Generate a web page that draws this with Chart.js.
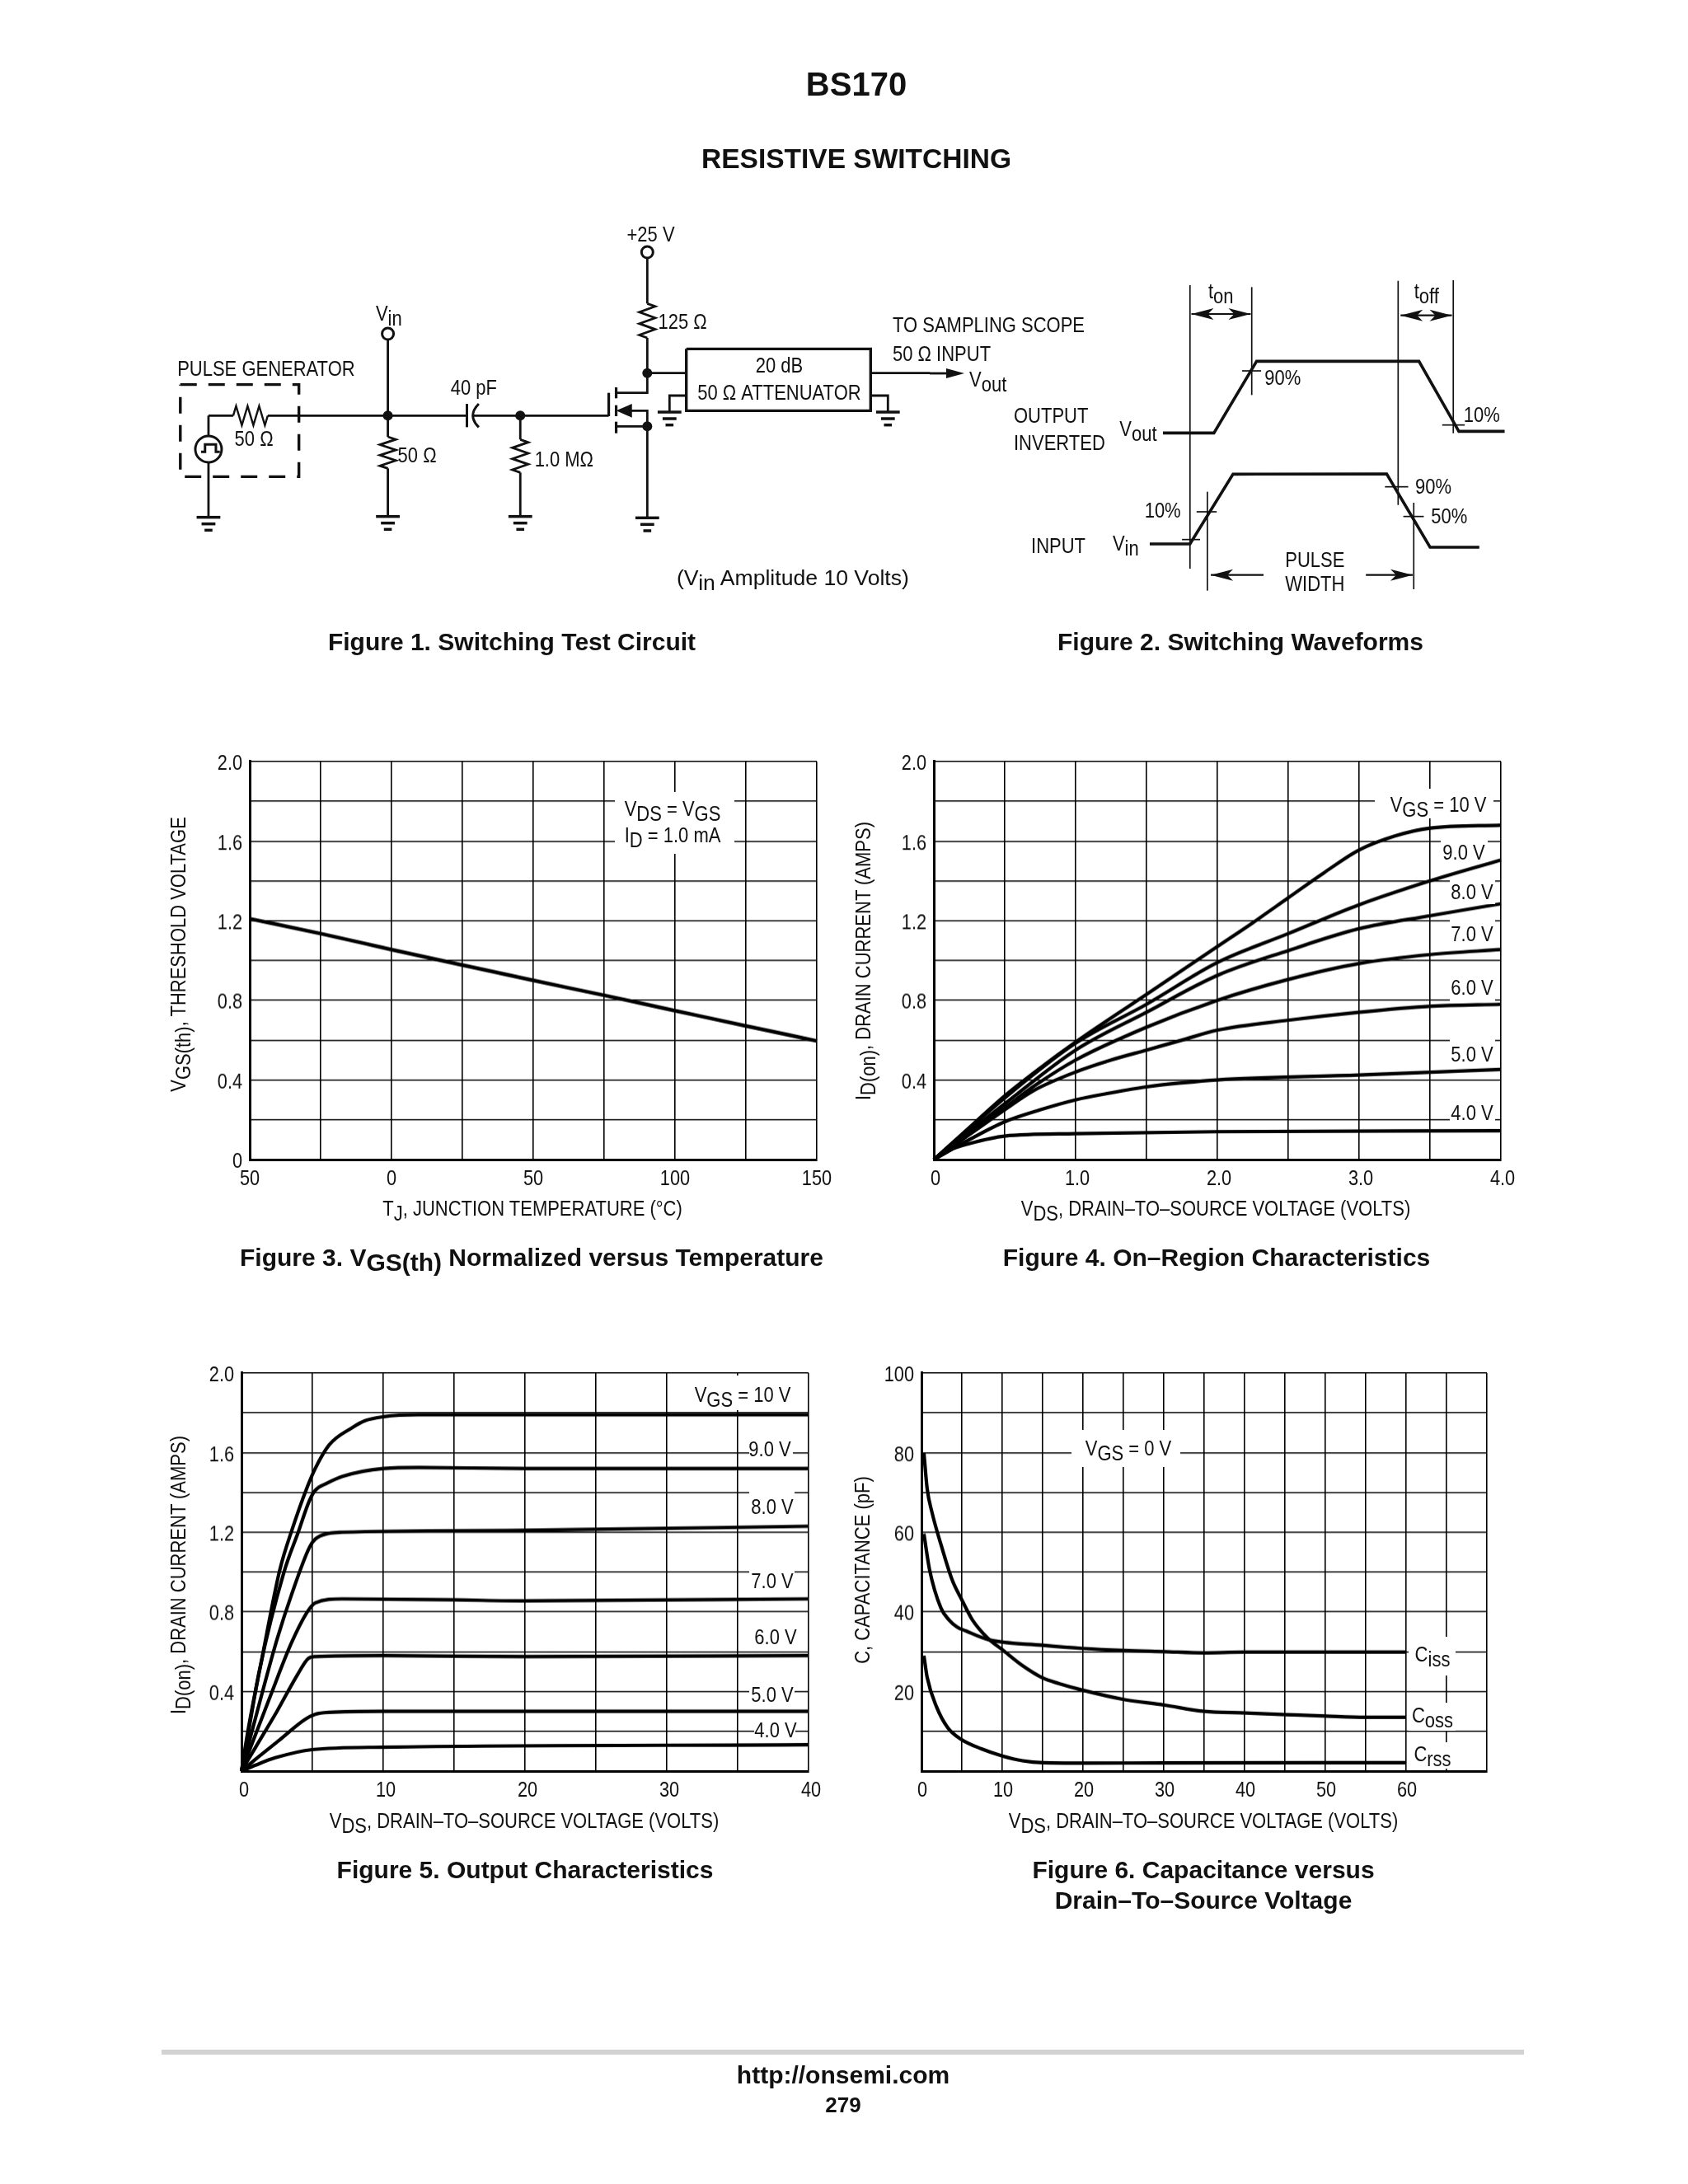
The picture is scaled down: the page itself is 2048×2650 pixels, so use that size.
<!DOCTYPE html>
<html><head><meta charset="utf-8"><title>BS170</title>
<script src="https://cdn.jsdelivr.net/npm/chart.js@4"></script>
<style>
html,body{margin:0;padding:0;background:#fff;}
body{width:2048px;height:2650px;position:relative;overflow:hidden;}
canvas.c{position:absolute;}
svg{position:absolute;left:0;top:0;}
</style></head><body>
<canvas class="c" id="fig3"></canvas>
<canvas class="c" id="fig4"></canvas>
<canvas class="c" id="fig5"></canvas>
<canvas class="c" id="fig6"></canvas>
<svg id="s" width="2048" height="2650" xmlns="http://www.w3.org/2000/svg"></svg>
<script>
// ---------- Figure 3 data
const fig3Temp = [-50,-25,0,25,50,75,100,125,150];
const fig3Vth  = [1.21,1.135,1.055,0.977,0.90,0.825,0.748,0.671,0.596];
const fig3XTicks = [-50,0,50,100,150];
const fig3XLabels = ['50','0','50','100','150'];
const fig3YTicks = [0,0.4,0.8,1.2,1.6,2.0];
const fig3YLabels = ['0','0.4','0.8','1.2','1.6','2.0'];
// ---------- Figure 4 data
const fig4V10x = [0,0.25,0.5,0.75,1,1.5,2,2.25,2.5,2.75,3,3.25,3.5,4];
const fig4V10y = [0,0.16,0.32,0.46,0.59,0.83,1.07,1.19,1.315,1.44,1.555,1.625,1.665,1.68];
const fig4V9x  = [0,0.25,0.5,1,1.5,2,2.5,3,3.5,4];
const fig4V9y  = [0,0.155,0.31,0.585,0.78,0.99,1.135,1.28,1.40,1.505];
const fig4V8x  = [0,0.25,0.5,1,1.5,2,2.5,3,3.5,4];
const fig4V8y  = [0,0.14,0.28,0.55,0.74,0.925,1.05,1.16,1.225,1.285];
const fig4V7x  = [0,0.25,0.5,0.72,1,1.5,2,2.5,3,3.5,4];
const fig4V7y  = [0,0.13,0.26,0.375,0.50,0.665,0.80,0.905,0.985,1.03,1.055];
const fig4V6x  = [0,0.25,0.5,0.7,1,1.25,1.5,1.75,2,2.5,3,3.5,4];
const fig4V6y  = [0,0.125,0.25,0.345,0.44,0.50,0.55,0.60,0.65,0.70,0.74,0.77,0.78];
const fig4V5x  = [0,0.25,0.5,0.75,1,1.25,1.5,1.75,2,3,4];
const fig4V5y  = [0,0.10,0.19,0.25,0.30,0.335,0.365,0.385,0.40,0.425,0.453];
const fig4V4x  = [0,0.12,0.25,0.5,1,2,4];
const fig4V4y  = [0,0.05,0.08,0.118,0.13,0.14,0.145];
const fig4XTicks = [0,1,2,3,4];
const fig4XLabels = ['0','1.0','2.0','3.0','4.0'];
const fig4YTicks = [0.4,0.8,1.2,1.6,2.0];
const fig4YLabels = ['0.4','0.8','1.2','1.6','2.0'];
// ---------- Figure 5 data
const fig5V10x = [0,0.5,1.4,2.7,3.6,4.6,5.2,6.2,7.8,8.7,10,12.5,20,40];
const fig5V10y = [0,0.22,0.55,1.01,1.22,1.42,1.52,1.64,1.725,1.76,1.78,1.79,1.79,1.79];
const fig5V9x  = [0,0.5,1.25,3,4,4.8,5.2,6,7.1,10,12.5,20,40];
const fig5V9y  = [0,0.20,0.50,1.0,1.20,1.36,1.41,1.445,1.48,1.52,1.525,1.52,1.52];
const fig5V8x  = [0,1,2.5,3.5,4.8,5.2,6.2,7.1,20,40];
const fig5V8y  = [0,0.27,0.66,0.88,1.125,1.165,1.195,1.20,1.21,1.23];
const fig5V7x  = [0,2,3.5,4.6,5.2,7.1,15,20,40];
const fig5V7y  = [0,0.37,0.64,0.795,0.845,0.865,0.86,0.855,0.865];
const fig5V6x  = [0,1,2.5,4,4.7,5.2,10,20,40];
const fig5V6y  = [0,0.12,0.30,0.49,0.565,0.575,0.58,0.575,0.58];
const fig5V5x  = [0,1,2.7,4.5,5.2,6.2,10,40];
const fig5V5y  = [0,0.06,0.157,0.26,0.285,0.295,0.30,0.30];
const fig5V4x  = [0,1,2.4,5,10,40];
const fig5V4y  = [0,0.03,0.067,0.108,0.12,0.132];
const fig5XTicks = [0,10,20,30,40];
const fig5XLabels = ['0','10','20','30','40'];
const fig5YTicks = [0.4,0.8,1.2,1.6,2.0];
const fig5YLabels = ['0.4','0.8','1.2','1.6','2.0'];
// ---------- Figure 6 data
const fig6Cissx = [0.3,1,2.4,3.4,4.4,5.5,8.3,15,20,25,30,35,40,60];
const fig6Cissy = [59.6,50.6,41,38,36.2,35.2,33,31.6,30.8,30.3,30,29.7,29.9,29.9];
const fig6Cossx = [0.3,0.7,1.3,2.4,3.8,5,6.3,8.2,10,12.5,15,17,20,25,30,35,40,45,50,55,60];
const fig6Cossy = [80,71,65,57,48,43,38,33.4,30.5,26.5,23.4,22,20.3,18,16.6,15,14.6,14.2,13.8,13.5,13.5];
const fig6Crssx = [0.3,0.7,1.85,3.25,4.9,7.4,10,12.5,15,20,30,60];
const fig6Crssy = [29,23.6,16.2,10.9,8,5.6,3.8,2.6,2.1,2,2.05,2.1];
const fig6XTicks = [0,10,20,30,40,50,60];
const fig6XLabels = ['0','10','20','30','40','50','60'];
const fig6YTicks = [20,40,60,80,100];
const fig6YLabels = ['20','40','60','80','100'];

// ---------- Chart construction
const SANS='"Liberation Sans",Arial,sans-serif';
const TICK_SX = 0.82, TEXT_SX = 0.83, FS = 26.5;
const W_LEFT = 100, H_BOTTOM = 60, PAD_TOP = 20, PAD_RIGHT = 40;
const pts = (xs,ys)=>xs.map((x,i)=>({x,y:ys[i]}));
function lookup(vals,labs){return v=>{const i=vals.findIndex(t=>Math.abs(t-v)<1e-6);return i<0?'':labs[i];};}
function condense(ctx){
  const orig=ctx.fillText.bind(ctx);
  ctx.fillText=function(t,x,y){ctx.save();ctx.translate(x,y);ctx.scale(TICK_SX,1);orig(t,0,0);ctx.restore();};
}
function mk(id,box,series,lw,sx,sy,offs){
  const cv=document.getElementById(id);
  condense(cv.getContext('2d'));
  const config=()=>({type:'line',
    data:{datasets:series.map(s=>({data:s,borderColor:'#000',borderWidth:lw,pointRadius:0,
        cubicInterpolationMode:'monotone',fill:false,borderCapStyle:'butt',clip:false}))},
    options:{responsive:false,animation:false,devicePixelRatio:1,
      layout:{padding:{top:PAD_TOP,right:PAD_RIGHT,left:0,bottom:0}},
      plugins:{legend:{display:false},tooltip:{enabled:false}},
      scales:{
        x:{type:'linear',min:sx.min,max:sx.max,
           afterFit:s=>{s.height=H_BOTTOM;},
           border:{display:true,color:'#000',width:3},
           grid:{color:'#000',lineWidth:1.6,drawTicks:false},
           ticks:{stepSize:sx.step,autoSkip:false,maxRotation:0,minRotation:0,padding:8,color:'#111',
             labelOffset:offs,
             font:{family:SANS,size:FS},callback:lookup(sx.ticks,sx.labels)}},
        y:{type:'linear',min:sy.min,max:sy.max,
           afterFit:s=>{s.width=W_LEFT;},
           border:{display:true,color:'#000',width:3},
           grid:{color:'#000',lineWidth:1.6,drawTicks:false},
           ticks:{stepSize:sy.step,autoSkip:false,padding:9,color:'#111',labelOffset:3,
             font:{family:SANS,size:FS},callback:lookup(sy.ticks,sy.labels)}}
      }}});
  let cw=W_LEFT+box.w+PAD_RIGHT, ch=PAD_TOP+box.h+H_BOTTOM;
  const size=()=>{cv.width=cw;cv.height=ch;cv.style.width=cw+'px';cv.style.height=ch+'px';};
  size();
  let c=new Chart(cv,config());
  let a=c.chartArea;
  const dw=box.w-(a.right-a.left), dh=box.h-(a.bottom-a.top);
  if(Math.abs(dw)>0.01||Math.abs(dh)>0.01){
    c.destroy(); cw+=dw; ch+=dh; size();
    c=new Chart(cv,config()); a=c.chartArea;
  }
  cv.style.left=(box.x-a.left)+'px';cv.style.top=(box.y-a.top)+'px';
  return c;
}
mk('fig3',{x:303,y:924,w:688,h:483},[pts(fig3Temp,fig3Vth)],4.5,
  {min:-50,max:150,step:25,ticks:fig3XTicks,labels:fig3XLabels},
  {min:0,max:2,step:0.2,ticks:fig3YTicks,labels:fig3YLabels},0);
mk('fig4',{x:1133,y:924,w:688,h:483},[pts(fig4V10x,fig4V10y),pts(fig4V9x,fig4V9y),pts(fig4V8x,fig4V8y),pts(fig4V7x,fig4V7y),pts(fig4V6x,fig4V6y),pts(fig4V5x,fig4V5y),pts(fig4V4x,fig4V4y)],4.2,
  {min:0,max:4,step:0.5,ticks:fig4XTicks,labels:fig4XLabels},
  {min:0,max:2,step:0.2,ticks:fig4YTicks,labels:fig4YLabels},2);
mk('fig5',{x:293,y:1666,w:688,h:483},[pts(fig5V10x,fig5V10y),pts(fig5V9x,fig5V9y),pts(fig5V8x,fig5V8y),pts(fig5V7x,fig5V7y),pts(fig5V6x,fig5V6y),pts(fig5V5x,fig5V5y),pts(fig5V4x,fig5V4y)],4.2,
  {min:0,max:40,step:5,ticks:fig5XTicks,labels:fig5XLabels},
  {min:0,max:2,step:0.2,ticks:fig5YTicks,labels:fig5YLabels},3);
mk('fig6',{x:1118,y:1666,w:686,h:483},[pts(fig6Cissx,fig6Cissy),pts(fig6Cossx,fig6Cossy),pts(fig6Crssx,fig6Crssy)],4.2,
  {min:0,max:70,step:5,ticks:fig6XTicks,labels:fig6XLabels},
  {min:0,max:100,step:10,ticks:fig6YTicks,labels:fig6YLabels},1);

// ---------- SVG overlay: page text, masks, diagrams
const svg=document.getElementById('s');
const NS='http://www.w3.org/2000/svg';
function el(n,a,p){const e=document.createElementNS(NS,n);for(const k in a)e.setAttribute(k,a[k]);(p||svg).appendChild(e);return e;}
function text(str,x,y,o){o=o||{};
  const t=el('text',{x:0,y:0,'font-family':SANS,'font-size':o.s||FS,'font-weight':o.b?'bold':'normal',
    'text-anchor':o.a||'start',fill:o.c||'#111'});
  const sx=o.ff?1:TEXT_SX;
  t.setAttribute('transform','translate('+x+' '+y+')'+(o.rot?' rotate(-90)':'')+' scale('+sx+' 1)');
  const sub=o.dy||6;
  str.split(/(_\{[^}]*\})/).forEach(part=>{ if(!part) return;
    const m=part.match(/^_\{(.*)\}$/);
    const ts=el('tspan',{},t);
    if(m){ts.textContent=m[1];ts.setAttribute('dy',sub);t._d=true;}
    else{ts.textContent=part;if(t._d){ts.setAttribute('dy',-sub);t._d=false;}}
  });
  return t;
}
function mask(x,y,w,h){el('rect',{x,y,width:w,height:h,fill:'#fff'});}
function line(p,sw,o){o=o||{};el('polyline',{points:p.map(q=>q.join(',')).join(' '),fill:'none',stroke:'#111','stroke-width':sw||2.5,'stroke-linejoin':'miter','stroke-dasharray':o.dash||'none'});}
function fillpoly(p){el('polygon',{points:p.map(q=>q.join(',')).join(' '),fill:'#111'});}
function dot(x,y,r){el('circle',{cx:x,cy:y,r:r||6,fill:'#111'});}
function ring(x,y,r){el('circle',{cx:x,cy:y,r:r,fill:'#fff',stroke:'#111','stroke-width':3});}

// titles
text('BS170',1039,116,{ff:SANS,b:1,s:40,a:'middle'});
text('RESISTIVE SWITCHING',1039,204,{ff:SANS,b:1,s:33.5,a:'middle'});
text('Figure 1. Switching Test Circuit',621,789,{ff:SANS,b:1,s:30,a:'middle'});
text('Figure 2. Switching Waveforms',1505,789,{ff:SANS,b:1,s:30,a:'middle'});
text('Figure 3. V_{GS(th)} Normalized versus Temperature',645,1536,{ff:SANS,b:1,s:30,a:'middle'});
text('Figure 4. On\u2013Region Characteristics',1476,1536,{ff:SANS,b:1,s:30,a:'middle'});
text('Figure 5. Output Characteristics',637,2279,{ff:SANS,b:1,s:30,a:'middle'});
text('Figure 6. Capacitance versus',1460,2279,{ff:SANS,b:1,s:30,a:'middle'});
text('Drain\u2013To\u2013Source Voltage',1460,2316,{ff:SANS,b:1,s:30,a:'middle'});
// footer
el('rect',{x:196,y:2487,width:1653,height:6,fill:'#d2d2d2'});
text('http://onsemi.com',1023,2528,{ff:SANS,b:1,s:30,a:'middle'});
text('279',1023,2563,{ff:SANS,b:1,s:26,a:'middle'});

// axis titles
text('T_{J}, JUNCTION TEMPERATURE (\u00B0C)',646,1475,{a:'middle'});
text('V_{DS}, DRAIN\u2013TO\u2013SOURCE VOLTAGE (VOLTS)',1475,1475,{a:'middle'});
text('V_{DS}, DRAIN\u2013TO\u2013SOURCE VOLTAGE (VOLTS)',636,2218,{a:'middle'});
text('V_{DS}, DRAIN\u2013TO\u2013SOURCE VOLTAGE (VOLTS)',1460,2218,{a:'middle'});
text('V_{GS(th)}, THRESHOLD VOLTAGE',225,1158,{a:'middle',rot:1});
text('I_{D(on)}, DRAIN CURRENT (AMPS)',1056,1166,{a:'middle',rot:1});
text('I_{D(on)}, DRAIN CURRENT (AMPS)',225,1911,{a:'middle',rot:1});
text('C, CAPACITANCE (pF)',1055,1905,{a:'middle',rot:1});

// fig 3 annotation
mask(746,961,145,75);
text('V_{DS} = V_{GS}',816,990,{a:'middle'});
text('I_{D} = 1.0 mA',816,1022,{a:'middle'});
// fig 4 annotations
mask(1668,957,144,36); text('V_{GS} = 10 V',1745,985,{a:'middle'});
[['9.0 V',1776,1043,[1748,1018,57,28]],['8.0 V',1786,1091,[1759,1065,55,32]],['7.0 V',1786,1142,[1759,1114,55,34]],
 ['6.0 V',1786,1207,[1759,1180,55,36]],['5.0 V',1786,1288,[1759,1258,55,36]],['4.0 V',1786,1359,[1759,1338,55,24]]]
 .forEach(r=>{mask(...r[3]);text(r[0],r[1],r[2],{a:'middle'});});
// fig 5 annotations
mask(844,1669,115,42); text('V_{GS} = 10 V',901,1701,{a:'middle'});
[['9.0 V',934,1767,[909,1745,53,26]],['8.0 V',937,1837,[909,1810,55,34]],['7.0 V',937,1927,[909,1905,55,30]],
 ['6.0 V',941,1995,null],['5.0 V',937,2065,[909,2042,55,28]],['4.0 V',941,2108,[915,2088,50,24]]]
 .forEach(r=>{if(r[3])mask(...r[3]);text(r[0],r[1],r[2],{a:'middle'});});
// fig 6 annotations
mask(1300,1735,132,45); text('V_{GS} = 0 V',1369,1766,{a:'middle'});
mask(1709,1986,57,47); text('C_{iss}',1738,2016,{a:'middle'});
mask(1709,2066,57,34); text('C_{oss}',1738,2090,{a:'middle'});
mask(1709,2114,57,32); text('C_{rss}',1738,2137,{a:'middle'});

// ---------- Figure 1 circuit (coordinates measured on a crop of the page)
const X1=z=>190+z/1.668, Y1=z=>260+z/3;
const P1=a=>a.map(q=>[X1(q[0]),Y1(q[1])]);
function wire(a,sw,o){line(P1(a),sw||2.8,o);}
function ground(x,y){wire([[x-24,y],[x+24,y]],3.5);wire([[x-14,y+24],[x+14,y+24]],3.5);wire([[x-8,y+47],[x+8,y+47]],3.5);}
function zigV(x,y0,y1){const n=6,a=[[x,y0]];for(let i=0;i<n;i++){a.push([x+(i%2?-16:16),y0+(i+0.5)*(y1-y0)/n]);}a.push([x,y1]);wire(a);}
function zigH(x0,x1,y){const n=6,a=[[x0,y]];for(let i=0;i<n;i++){a.push([x0+(i+0.5)*(x1-x0)/n,y+(i%2?35:-35)]);}a.push([x1,y]);wire(a,2.4);}
// power rail and drain
wire([[993,158],[993,325]]); zigV(993,325,450); wire([[993,450],[993,650],[930,650]]);
ring(X1(993),Y1(138),7);
dot(X1(993),Y1(578)); dot(X1(993),Y1(772));
wire([[993,578],[1072,578]]);
// attenuator
line(P1([[1072,490],[1445,490],[1445,715],[1072,715],[1072,490]]),3.4);
wire([[1445,578],[1565,578]]);
line([[1128,453],[1150,453]],2.8); fillpoly([[1148,447],[1170,453],[1148,459]]);
wire([[1072,660],[1038,660],[1038,720]]); ground(1038,720);
wire([[1445,660],[1480,660],[1480,720]]); ground(1480,720);
// mosfet
wire([[915,650],[915,735]],3.2);
wire([[930,630],[930,670]],3.2); wire([[930,695],[930,735]],3.2); wire([[930,755],[930,797]],3.2);
wire([[945,715],[993,715],[993,1105]]); wire([[930,772],[993,772]]);
fillpoly(P1([[930,715],[962,690],[962,740]]));
ground(993,1105);
// gate wire
wire([[105,733],[155,733]]); zigH(155,225,733); wire([[225,733],[628,733]]); wire([[642,733],[915,733]]);
dot(X1(468),Y1(733)); dot(X1(736),Y1(733));
// capacitor
wire([[628,690],[628,775]],3);
el('path',{d:`M${X1(652)} ${Y1(690)} Q${X1(628)} ${Y1(733)} ${X1(652)} ${Y1(775)}`,fill:'none',stroke:'#111','stroke-width':3});
// Vin branch
ring(X1(468),Y1(435),7); wire([[468,456],[468,810]]); zigV(468,810,925); wire([[468,925],[468,1100]]); ground(468,1100);
// 1 Mohm branch
wire([[736,733],[736,820]]); zigV(736,820,940); wire([[736,940],[736,1100]]); ground(736,1100);
// pulse generator
line(P1([[48,620],[288,620],[288,955],[48,955],[48,620]]),3.4,{dash:'20 14'});
wire([[105,733],[105,808]]); wire([[105,902],[105,1103]]); ground(105,1103);
el('circle',{cx:X1(105),cy:Y1(855),r:16,fill:'#fff',stroke:'#111','stroke-width':3});
wire([[90,865],[98,865],[98,838],[120,838],[120,865],[128,865]],3);
// circuit labels
const tc=(s,x,y,o)=>text(s,X1(x),Y1(y)+9,o||{});
tc('+25 V',1000,72,{a:'middle'});
tc('V_{in}',470,360,{a:'middle'});
tc('125 \u03A9',1015,390);
tc('PULSE GENERATOR',42,560);
tc('50 \u03A9',197,815,{a:'middle'});
tc('50 \u03A9',488,875);
tc('1.0 M\u03A9',765,890);
tc('40 pF',642,630,{a:'middle'});
tc('20 dB',1260,548,{a:'middle'});
tc('50 \u03A9 ATTENUATOR',1260,648,{a:'middle'});
text('(V_{in} Amplitude 10 Volts)',821,710,{ff:SANS,s:26.6});
text('TO SAMPLING SCOPE',1083,403);
text('50 \u03A9 INPUT',1083,438);
text('V_{out}',1176,469);

// ---------- Figure 2 waveforms
const X2=z=>1190+z/2.376, Y2=z=>320+z/3;
const P2=a=>a.map(q=>[X2(q[0]),Y2(q[1])]);
function w2(a,sw){line(P2(a),sw||1.7);}
w2([[603,78],[603,1110]]); w2([[781,85],[781,478]]); w2([[1203,62],[1203,878]]); w2([[1362,60],[1362,617]]);
w2([[653,830],[653,1190]]); w2([[1248,870],[1248,1185]]);
w2([[525,616],[672,616],[795,355],[1263,355],[1378,610],[1510,610]],3.6);
w2([[487,1020],[603,1020],[727,766],[1170,765],[1295,1032],[1437,1032]],3.6);
[[753,808,390],[1330,1395,587],[580,632,1004],[622,680,903],[1165,1232,812],[1218,1277,920]].forEach(t=>w2([[t[0],t[2]],[t[1],t[2]]]));
function head(x,y,dir){const xa=X2(x),ya=Y2(y);fillpoly([[xa,ya],[xa+dir*27,ya-7],[xa+dir*20,ya],[xa+dir*27,ya+7]]);}
w2([[607,183],[778,183]],2.2); head(607,183,1); head(778,183,-1);
w2([[1210,188],[1358,188]],2.2); head(1210,188,1); head(1358,188,-1);
w2([[663,1133],[815,1133]],2.2); head(663,1133,1);
w2([[1110,1133],[1245,1133]],2.2); head(1245,1133,-1);
const t2=(s,x,y,o)=>text(s,X2(x),Y2(y)+9,o||{});
t2('t_{on}',692,100,{a:'middle'}); t2('t_{off}',1285,100,{a:'middle'});
t2('90%',818,415); t2('10%',1392,550);
t2('OUTPUT',95,552); t2('INVERTED',95,650); t2('V_{out}',400,600);
t2('90%',1252,810); t2('10%',472,898); t2('50%',1298,918);
t2('INPUT',145,1025); t2('V_{in}',380,1018);
t2('PULSE',963,1077,{a:'middle'}); t2('WIDTH',963,1165,{a:'middle'});
</script>
</body></html>
